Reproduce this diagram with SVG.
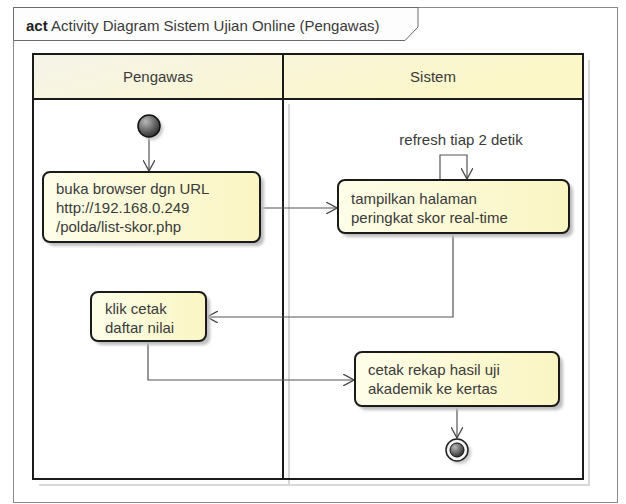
<svg xmlns="http://www.w3.org/2000/svg" width="626" height="504" viewBox="0 0 626 504">
<defs>
<linearGradient id="hdr" x1="0" y1="0" x2="1" y2="0.3">
<stop offset="0" stop-color="#f6f4ea"/>
<stop offset="1" stop-color="#fcf7c6"/>
</linearGradient>
<linearGradient id="box" x1="0" y1="0" x2="1" y2="0">
<stop offset="0" stop-color="#fefee9"/>
<stop offset="1" stop-color="#faf5c2"/>
</linearGradient>
<radialGradient id="ball" cx="0.35" cy="0.3" r="0.75">
<stop offset="0" stop-color="#b8b8b8"/>
<stop offset="1" stop-color="#2a2a2a"/>
</radialGradient>
<filter id="sh" x="-10%" y="-10%" width="130%" height="140%">
<feGaussianBlur stdDeviation="1.5"/>
</filter>
<marker id="arr" viewBox="0 0 12 12" refX="11" refY="6" markerWidth="12" markerHeight="12" orient="auto" markerUnits="userSpaceOnUse">
<path d="M0,0 L11,6 L0,12" fill="none" stroke="#444" stroke-width="1.3"/>
</marker>
</defs>
<style>
text{font-family:"Liberation Sans",Arial,sans-serif;font-size:15px;fill:#3a3a3a}
.act rect.s{fill:#bdbdbd;filter:url(#sh)}
.act rect.b{fill:url(#box);stroke:#1a1a1a;stroke-width:2}
.con{fill:none;stroke:#555;stroke-width:1.2}
.lane{fill:none;stroke:#1a1a1a;stroke-width:2}
.lsh{fill:none;stroke:#d8d8d8;stroke-width:2}
</style>
<rect x="0" y="0" width="626" height="504" fill="#ffffff"/>
<g id="frame">
<rect x="13.5" y="7.5" width="604" height="495" fill="none" stroke="#8a8a8a" stroke-width="1"/>
<path d="M13.5,7.5 H418 V27 L405,40.5 H13.5 Z" fill="#fdfdfd" stroke="#6a6a6a" stroke-width="1"/>
<text x="26" y="31"><tspan font-weight="bold" fill="#222">act</tspan> Activity Diagram Sistem Ujian Online (Pengawas)</text>
</g>
<g id="lanes">
<path class="lsh" d="M589,60 V485 H39"/>
<line class="lsh" x1="289" y1="104" x2="289" y2="485"/>
<rect x="33" y="54" width="550" height="45" fill="url(#hdr)"/>
<rect class="lane" x="33" y="54" width="550" height="425"/>
<line class="lane" x1="33" y1="99" x2="583" y2="99"/>
<line class="lane" x1="283" y1="54" x2="283" y2="479"/>
<text x="158" y="82" text-anchor="middle">Pengawas</text>
<text x="433" y="82" text-anchor="middle">Sistem</text>
</g>
<g id="connectors">
<line class="con" x1="149" y1="137" x2="149" y2="171" marker-end="url(#arr)"/>
<line class="con" x1="260" y1="208" x2="337" y2="208" marker-end="url(#arr)"/>
<path class="con" d="M440,180 V155 H467 V179" marker-end="url(#arr)"/>
<path class="con" d="M453,233 V317 H207" marker-end="url(#arr)"/>
<path class="con" d="M148,341 V380 H354" marker-end="url(#arr)"/>
<line class="con" x1="457" y1="406" x2="457" y2="438" marker-end="url(#arr)"/>
<text x="461" y="145" text-anchor="middle">refresh tiap 2 detik</text>
</g>
<g id="start">
<circle cx="152" cy="129" r="11" fill="#c8c8c8" filter="url(#sh)"/>
<circle cx="149" cy="126" r="11" fill="url(#ball)" stroke="#111" stroke-width="1.5"/>
</g>
<g id="buka" class="act">
<rect class="s" x="47" y="176" width="217" height="70" rx="7"/>
<rect class="b" x="43" y="172" width="217" height="70" rx="7"/>
<text x="56" y="194">buka browser dgn URL</text>
<text x="56" y="213">http://192.168.0.249</text>
<text x="56" y="232">/polda/list-skor.php</text>
</g>
<g id="tampil" class="act">
<rect class="s" x="342" y="184" width="231" height="53" rx="7"/>
<rect class="b" x="338" y="180" width="231" height="53" rx="7"/>
<text x="351" y="204">tampilkan halaman</text>
<text x="351" y="223">peringkat skor real-time</text>
</g>
<g id="klik" class="act">
<rect class="s" x="95" y="296" width="115" height="49" rx="7"/>
<rect class="b" x="91" y="292" width="115" height="49" rx="7"/>
<text x="105" y="314">klik cetak</text>
<text x="105" y="333">daftar nilai</text>
</g>
<g id="cetak" class="act">
<rect class="s" x="359" y="356" width="204" height="54" rx="7"/>
<rect class="b" x="355" y="352" width="204" height="54" rx="7"/>
<text x="368" y="375">cetak rekap hasil uji</text>
<text x="368" y="394">akademik ke kertas</text>
</g>
<g id="end">
<circle cx="460" cy="453" r="11" fill="#c8c8c8" filter="url(#sh)"/>
<circle cx="457" cy="450" r="11" fill="#f4f4f4" stroke="#222" stroke-width="1.5"/>
<circle cx="457" cy="450" r="7" fill="url(#ball)" stroke="#111" stroke-width="1"/>
</g>
</svg>
